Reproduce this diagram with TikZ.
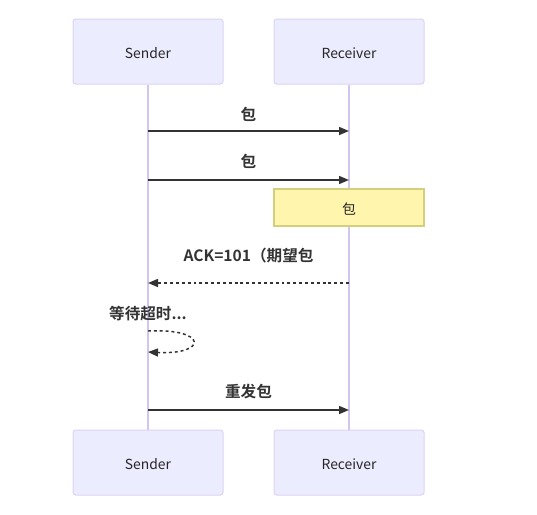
\documentclass[tikz,border=0pt]{standalone}
\usepackage{fontspec}
\setmainfont{Noto Sans CJK SC}[BoldFont={Noto Sans CJK SC Bold}]
\usetikzlibrary{arrows.meta}
\definecolor{actfill}{HTML}{ECECFF}
\definecolor{actline}{HTML}{DCD3F3}
\definecolor{lifeln}{HTML}{D2C6F0}
\definecolor{msgc}{HTML}{333333}
\definecolor{notefill}{HTML}{FFF5AD}
\definecolor{noteline}{HTML}{D4CF7C}
\tikzset{
  actor/.style={draw=actline, fill=actfill, line width=0.75pt, rounded corners=2pt, minimum width=112.5pt, minimum height=48.75pt, inner sep=0pt, font=\fontsize{10.4}{12}\selectfont, text=black!85},
  life/.style={draw=lifeln, line width=0.9pt},
  msg/.style={draw=msgc, line width=1.1pt, -{Triangle[length=7.5pt,width=6pt]}},
  dmsg/.style={msg, dash pattern=on 2.2pt off 2.2pt},
  mlabel/.style={font=\bfseries\fontsize{11.7}{14}\selectfont, text=msgc},
  notebox/.style={draw=noteline, fill=notefill, line width=0.9pt, minimum width=112.5pt, minimum height=27.75pt, inner sep=0pt, font=\fontsize{10.4}{12}\selectfont, text=black!85}
}
\begin{document}
\begin{tikzpicture}[x=0.75pt,y=-0.75pt]
\useasboundingbox (0,0) rectangle (537,515);
\node[actor] (st) at (148,51.5) {};
\node[actor] (rt) at (349,51.5) {};
\node[actor] (sb) at (148,462.5) {};
\node[actor] (rb) at (349,462.5) {};
\node[font=\fontsize{10.4}{12}\selectfont, text=black!85] (stt) at (148,53) {Sender};
\node[font=\fontsize{10.4}{12}\selectfont, text=black!85] (rtt) at (349,53) {Receiver};
\node[font=\fontsize{10.4}{12}\selectfont, text=black!85] (sbt) at (148,464) {Sender};
\node[font=\fontsize{10.4}{12}\selectfont, text=black!85] (rbt) at (349,464) {Receiver};
\draw[life] (st.south) -- (sb.north);
\draw[life] (rt.south) -- (rb.north);
% message anchors
\coordinate (s1) at (148,131); \coordinate (r1) at (349,131);
\coordinate (s2) at (148,180); \coordinate (r2) at (349,180);
\coordinate (s3) at (148,283); \coordinate (r3) at (349,283);
\coordinate (s4) at (148,331); \coordinate (s5) at (148,352);
\coordinate (s6) at (148,410); \coordinate (r6) at (349,410);
\draw[msg] (s1) -- (r1);
\node[mlabel] (l1) at (248.5,114) {包};
\draw[msg] (s2) -- (r2);
\node[mlabel] (l2) at (248.5,161) {包};
\node[notebox] (n1) at (349,207.5) {};
\node[font=\fontsize{10.4}{12}\selectfont, text=black!85] (n1t) at (349,209) {包};
\draw[dmsg] (r3) -- (s3);
\node[mlabel] (l3) at (248.5,256) {ACK=101（期望包};
\node[mlabel] (l4) at (148,314) {等待超时...};
\draw[dmsg] (s4) .. controls (208,328) and (208,355) .. (s5);
\node[mlabel] (l5) at (248.5,392) {重发包};
\draw[msg] (s6) -- (r6);
\end{tikzpicture}
\end{document}
